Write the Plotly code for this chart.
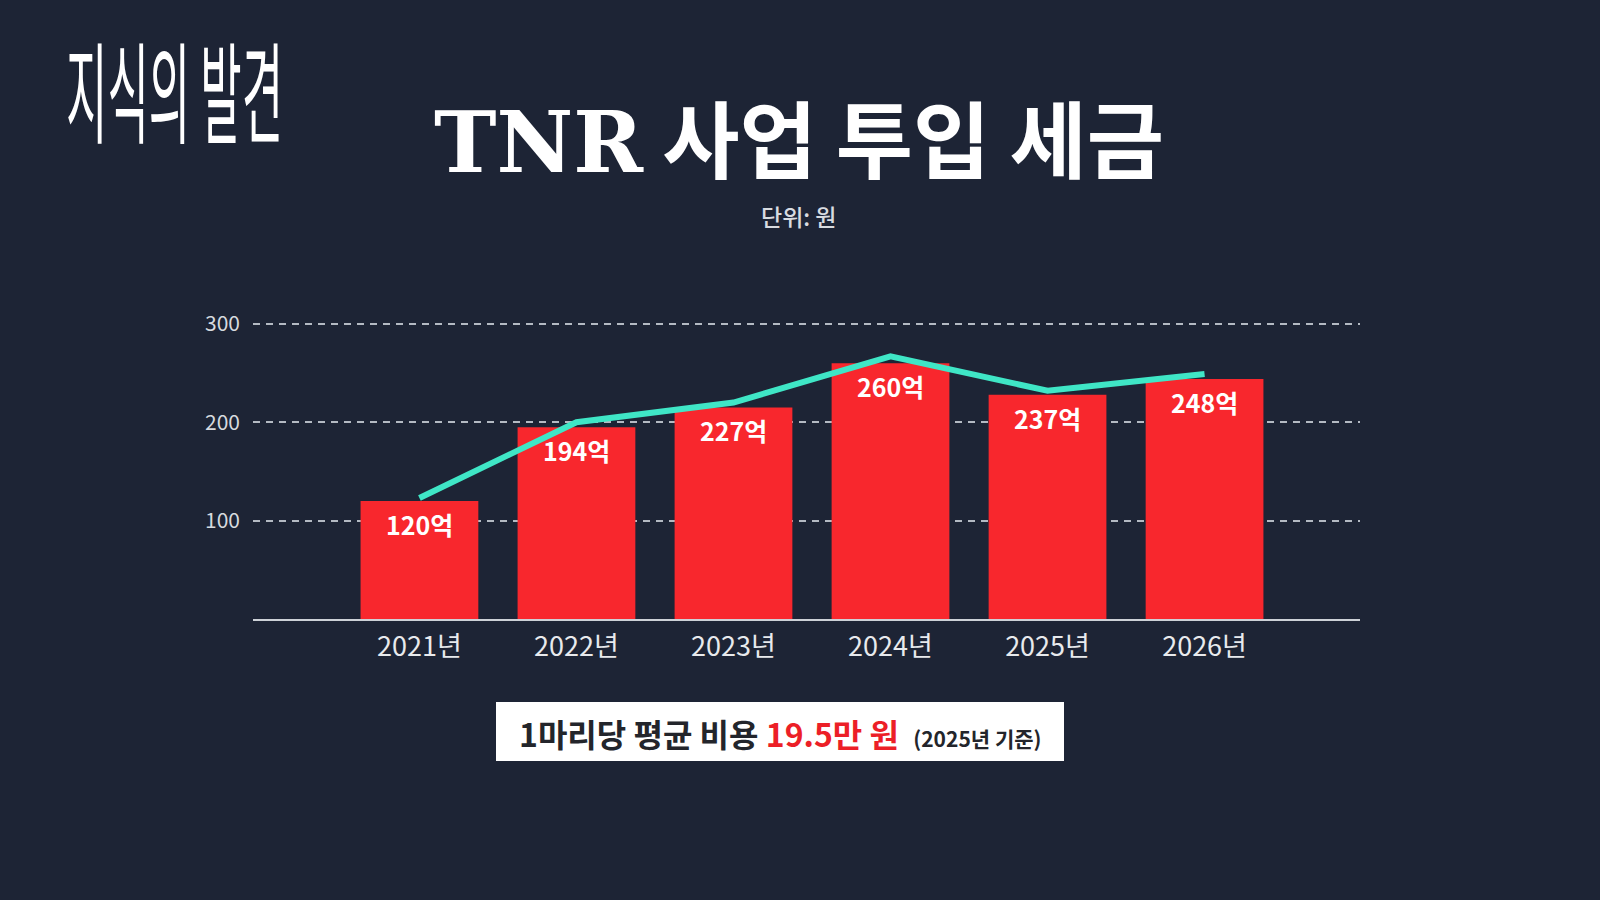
import plotly.graph_objects as go

# ---- data ----
years = ["2021년", "2022년", "2023년", "2024년", "2025년", "2026년"]
bar_values = [120, 195, 215, 260, 228, 244]
bar_labels = ["120억", "194억", "227억", "260억", "237억", "248억"]
line_values = [123, 200, 220, 267, 232, 249]
y_ticks = [100, 200, 300]
y_tick_text = ["100", "200", "300"]

title_text = "TNR 사업 투입 세금"
unit_text = "단위: 원"
logo_text = "지식의 발견"

# ---- geometry (pixels) ----
W, H = 1600, 900
L, R = 253, 1360
T, B = 314, 619
Y_MAX = 310

def px(x):
    return (x - L) / (R - L)

def py(y):
    return (B - y) / (B - T)

KR = "Noto Sans CJK KR"
BG = "#1d2435"

fig = go.Figure()
fig.add_bar(
    x=years, y=bar_values, width=0.75,
    marker=dict(color="#f8272d", line_width=0),
    hoverinfo="skip", showlegend=False,
)
fig.add_scatter(
    x=years, y=line_values, mode="lines",
    line=dict(color="#3fe6c6", width=6),
    hoverinfo="skip", showlegend=False,
)

annotations = []
for yr, v, lab in zip(years, bar_values, bar_labels):
    annotations.append(dict(
        x=yr, y=v, xref="x", yref="y", text=f"<b>{lab}</b>", showarrow=False,
        yanchor="top", yshift=-3,
        font=dict(family=KR, size=25, color="#ffffff"),
    ))

# title
annotations.append(dict(
    x=px(799), y=py(136), xref="paper", yref="paper", showarrow=False,
    xanchor="center", yanchor="middle",
    text="<span style='font-family:DejaVu Serif'><b>TNR</b></span><b> 사업 투입 세금</b>",
    font=dict(family=KR, size=84, color="#ffffff", weight=900),
))
# unit
annotations.append(dict(
    x=px(799), y=py(216), xref="paper", yref="paper", showarrow=False,
    xanchor="center", yanchor="middle", text=unit_text,
    font=dict(family=KR, size=23, color="#d8dbe0", weight=500),
))
# logo
annotations.append(dict(
    x=px(174), y=py(86), xref="paper", yref="paper", showarrow=False,
    xanchor="center", yanchor="middle", text=logo_text,
    font=dict(family=KR, size=45, color="#ffffff", weight=400),
))
# bottom box text
annotations.append(dict(
    x=px(780), y=py(733), xref="paper", yref="paper", showarrow=False,
    xanchor="center", yanchor="middle",
    text="<b>1마리당 평균 비용 <span style='color:#ec1f27'>19.5만 원</span></b>"
         "  <span style='font-size:21px'><b>(2025년 기준)</b></span>",
    font=dict(family=KR, size=32, color="#23252b"),
))

shapes = [dict(
    type="rect", xref="paper", yref="paper",
    x0=px(496), x1=px(1064), y0=py(702), y1=py(761),
    fillcolor="#ffffff", line=dict(width=0), layer="above",
)]

fig.update_layout(
    width=W, height=H,
    margin=dict(l=L, r=W - R, t=T, b=H - B, pad=0),
    paper_bgcolor=BG, plot_bgcolor=BG,
    bargap=0.25,
    annotations=annotations,
    shapes=shapes,
    xaxis=dict(
        range=[-1.06, 5.99], showgrid=False, zeroline=False,
        showline=True, linecolor="#cdd1d7", linewidth=2,
        ticks="", ticklabelstandoff=3,
        tickfont=dict(family=KR, size=27, color="#e8eaed"),
    ),
    yaxis=dict(
        range=[0, Y_MAX], tickvals=y_ticks, ticktext=y_tick_text,
        showgrid=True, gridcolor="#b4bac3", gridwidth=1.5, griddash="7px,6px",
        zeroline=False, showline=False, ticks="", ticklabelstandoff=12,
        tickfont=dict(family=KR, size=21, color="#d6dadf"),
    ),
)

post_js = """
(function(){
  function fix(){
    document.querySelectorAll('.annotation-text').forEach(function(t){
      if(t.textContent.indexOf('지식의') >= 0){
        t.style.transformBox = 'fill-box';
        t.style.transformOrigin = 'center';
        t.style.transform = 'scaleY(2.45)';
      }
    });
  }
  fix();
  setTimeout(fix, 50);
  var gd = document.getElementById('{plot_id}');
  if (gd && gd.on) { gd.on('plotly_afterplot', fix); }
})();
"""

fig.write_html("out.html", post_script=post_js, config={"displayModeBar": False})
